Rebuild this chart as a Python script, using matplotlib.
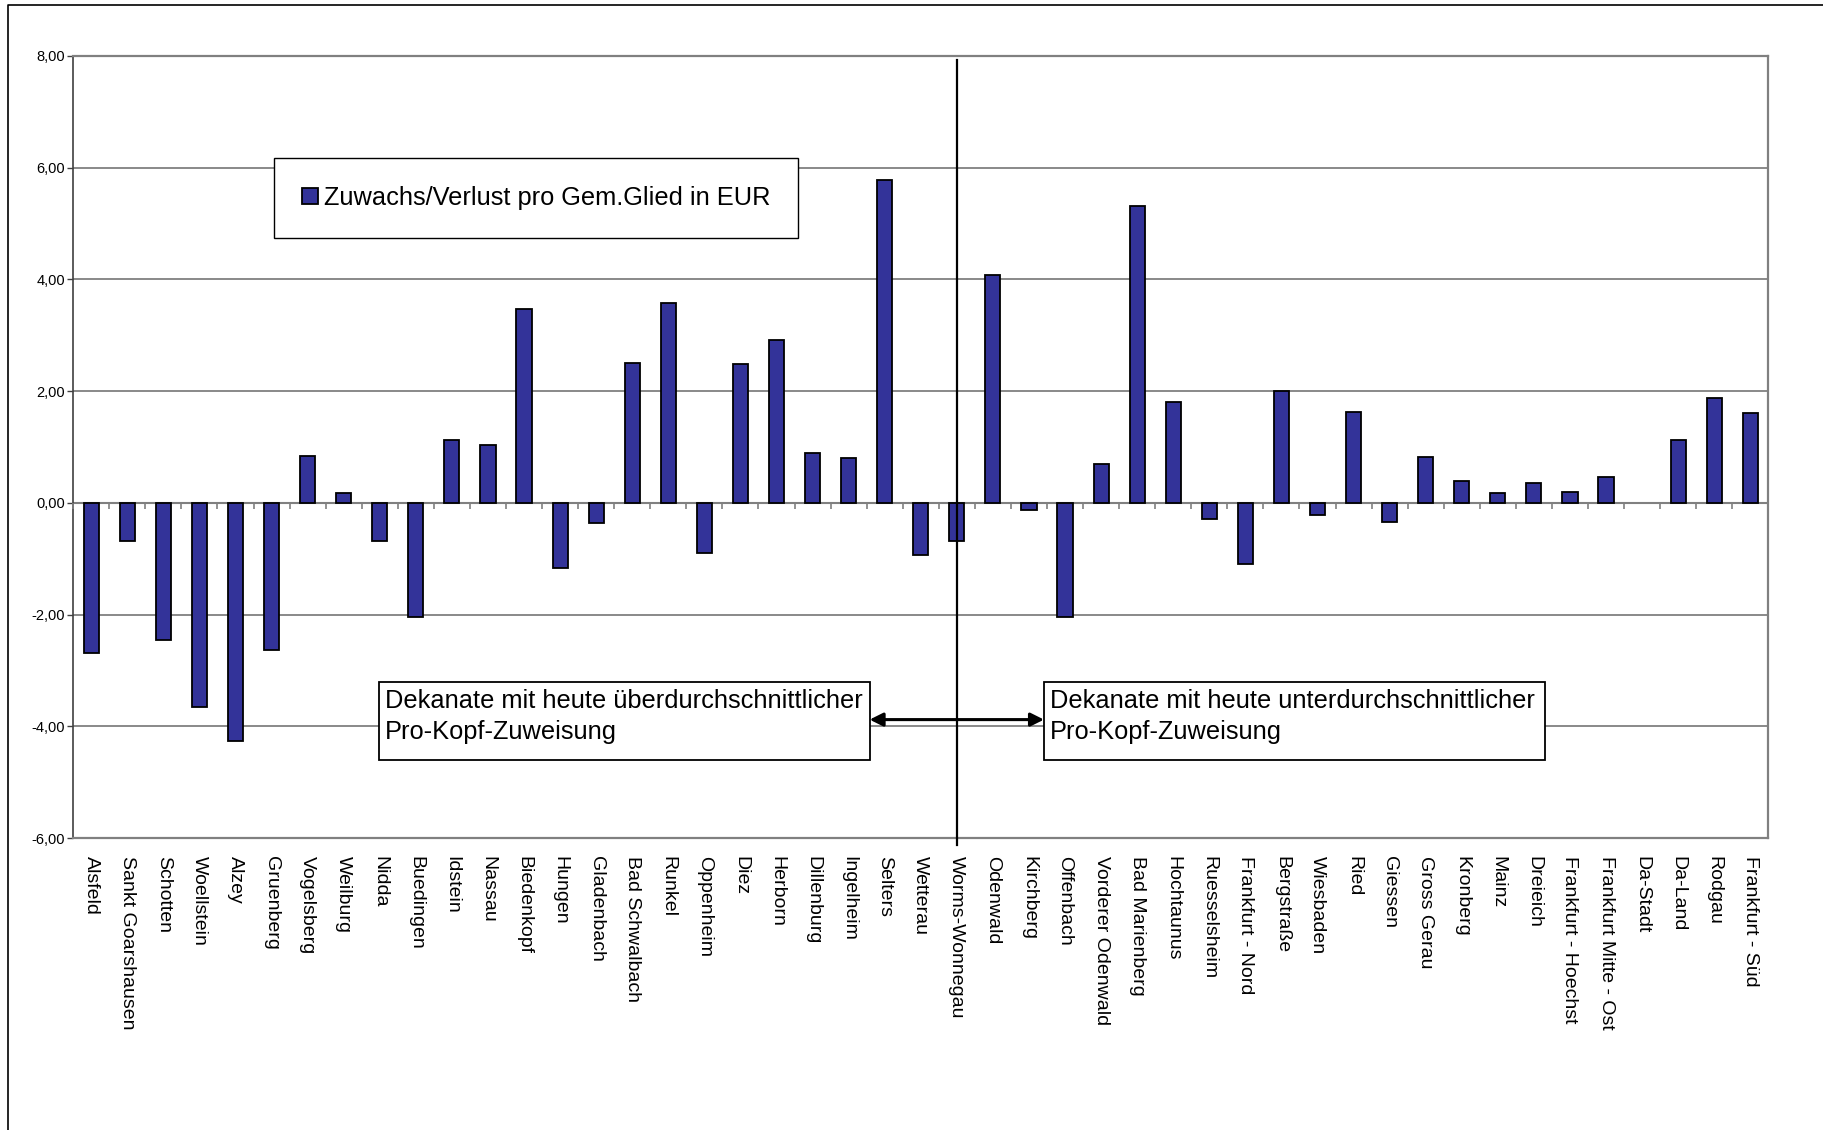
import matplotlib
matplotlib.use('Agg')
import matplotlib.pyplot as plt
import numpy as np
from matplotlib.patches import Rectangle
from matplotlib.lines import Line2D
from matplotlib.ticker import FuncFormatter, MultipleLocator

categories = [
    "Alsfeld", "Sankt Goarshausen", "Schotten", "Woellstein", "Alzey", "Gruenberg",
    "Vogelsberg", "Weilburg", "Nidda", "Buedingen", "Idstein", "Nassau", "Biedenkopf",
    "Hungen", "Gladenbach", "Bad Schwalbach", "Runkel", "Oppenheim", "Diez", "Herborn",
    "Dillenburg", "Ingelheim", "Selters", "Wetterau", "Worms-Wonnegau", "Odenwald",
    "Kirchberg", "Offenbach", "Vorderer Odenwald", "Bad Marienberg", "Hochtaunus",
    "Ruesselsheim", "Frankfurt - Nord", "Bergstraße", "Wiesbaden", "Ried", "Giessen",
    "Gross Gerau", "Kronberg", "Mainz", "Dreieich", "Frankfurt - Hoechst",
    "Frankfurt Mitte - Ost", "Da-Stadt", "Da-Land", "Rodgau", "Frankfurt - Süd",
]
values = [
    -2.68, -0.69, -2.46, -3.65, -4.26, -2.64,
    0.84, 0.17, -0.68, -2.04, 1.12, 1.03, 3.47,
    -1.16, -0.36, 2.50, 3.58, -0.90, 2.49, 2.92,
    0.89, 0.80, 5.78, -0.93, -0.69, 4.07,
    -0.12, -2.04, 0.70, 5.32, 1.81,
    -0.29, -1.09, 2.01, -0.21, 1.63, -0.34,
    0.83, 0.39, 0.18, 0.36, 0.20,
    0.47, np.nan, 1.12, 1.87, 1.60,
]
series_label = "Zuwachs/Verlust pro Gem.Glied in EUR"
divider_category = "Worms-Wonnegau"
note_left = "Dekanate mit heute überdurchschnittlicher\nPro-Kopf-Zuweisung"
note_right = "Dekanate mit heute unterdurchschnittlicher\nPro-Kopf-Zuweisung"

plt.rcParams['font.family'] = ['Liberation Sans', 'DejaVu Sans']

W, H = 1823, 1130
fig = plt.figure(figsize=(W / 100, H / 100), dpi=100)
ax = fig.add_axes([73.2 / W, 1 - 838.2 / H, (1768.3 - 73.2) / W, (838.2 - 55.8) / H])

x = np.arange(len(categories))
bars = ax.bar(x, values, width=0.42, color='#333399', edgecolor='black',
              linewidth=1.3, zorder=3, label=series_label)
ax.set_xlim(-0.5, len(categories) - 0.5)
ax.set_ylim(-6, 8)
ax.yaxis.set_major_locator(MultipleLocator(2))
ax.yaxis.set_major_formatter(FuncFormatter(lambda v, p: f"{v:.2f}".replace('.', ',')))
ax.yaxis.grid(True, color='#808080', lw=1.3, zorder=0)
ax.set_axisbelow(True)

ax.set_xticks(x)
ax.set_xticklabels(categories, rotation=270, ha='center', va='top', fontsize=14)
ax.tick_params(axis='x', length=0, pad=13)
ax.tick_params(axis='y', length=4.5, width=1, color='#404040', pad=1.5, labelsize=10.5)

for s in ['top', 'right', 'bottom']:
    ax.spines[s].set_color('#808080')
    ax.spines[s].set_linewidth(1.6)
ax.spines['left'].set_color('#404040')
ax.spines['left'].set_linewidth(1.2)

# category axis at zero with tick marks between categories
ax.axhline(0, color='#808080', lw=1.5, zorder=2.5)
bounds = np.arange(len(categories) + 1) - 0.5
ax.plot(bounds, np.zeros_like(bounds), ls='none', marker=3, ms=4.5, mew=1.2,
        color='#808080', clip_on=False, zorder=2.6)

# divider line through Worms-Wonnegau
idx = categories.index(divider_category)
ax.axvline(idx, ymin=(-6.12 + 6) / 14, ymax=(7.93 + 6) / 14, color='black',
           lw=1.6, zorder=6, clip_on=False)

# legend
leg = ax.legend(handles=[bars], labels=[series_label], loc='upper left',
                bbox_to_anchor=(274.4 / W, 1 - 158.1 / H), bbox_transform=fig.transFigure,
                borderaxespad=0, fontsize=18.3, frameon=True, fancybox=False,
                edgecolor='black', framealpha=1, handlelength=0.6, handleheight=0.6,
                handletextpad=0.25, borderpad=1.1)
leg.get_frame().set_linewidth(1.0)

# annotation boxes
def note_box(x0, x1, y0, y1, text):
    fig.add_artist(Rectangle((x0 / W, 1 - y1 / H), (x1 - x0) / W, (y1 - y0) / H,
                             transform=fig.transFigure, facecolor='white',
                             edgecolor='black', lw=1.3, zorder=5))
    fig.text((x0 + 6) / W, 1 - 716.5 / H, text, fontsize=18.3, ha='left', va='center',
             linespacing=1.4, zorder=6)

note_box(379.0, 869.6, 682.4, 760.3, note_left)
note_box(1044.0, 1545.0, 682.4, 760.3, note_right)

# double arrow between boxes
ax.annotate('', xy=(1044.0, H - 719.6), xycoords='figure pixels',
            xytext=(869.6, H - 719.6), textcoords='figure pixels',
            arrowprops=dict(arrowstyle='<|-|>', color='black', lw=2.2,
                            mutation_scale=20, shrinkA=0, shrinkB=0),
            annotation_clip=False, zorder=7)

# outer chart frame (cut off at right/bottom)
fig.add_artist(Line2D([8 / W, 8 / W, 1.01], [-0.01, 1 - 4.6 / H, 1 - 4.6 / H],
                      transform=fig.transFigure, color='black', lw=1.2))

fig.savefig('out.png', dpi=100)
